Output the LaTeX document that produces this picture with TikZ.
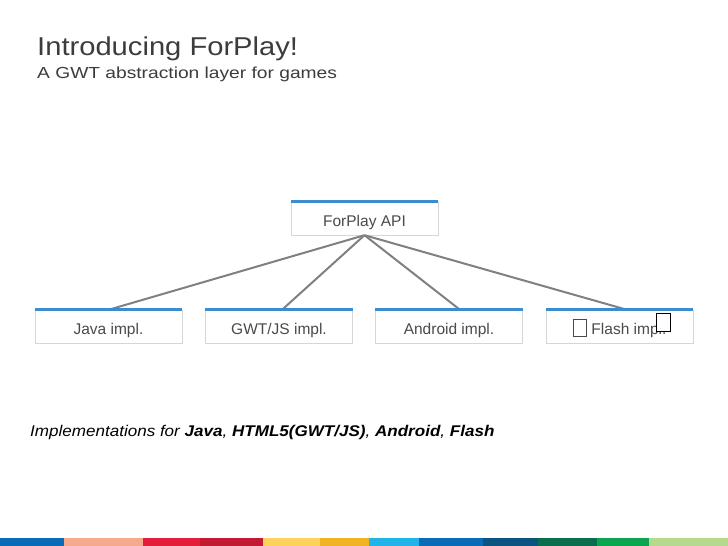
\documentclass[tikz,border=0pt]{standalone}
\usepackage{fontspec}
\setmainfont{Liberation Sans}
\newfontfamily\titlefont[FakeStretch=1.13]{Liberation Sans}
\newfontfamily\subtitlefont[FakeStretch=1.2]{Liberation Sans}
\newfontfamily\notefont[FakeStretch=1.1]{Liberation Sans}
\usepackage{xcolor}

\definecolor{slidetext}{HTML}{3C3C3C}
\definecolor{boxtext}{HTML}{4A4A4A}
\definecolor{boxline}{HTML}{D6D6D6}
\definecolor{topline}{HTML}{3A8DD0}
\definecolor{wiregray}{HTML}{808080}
\definecolor{barblue}{HTML}{0B6BB5}
\definecolor{barsalmon}{HTML}{F5AA8B}
\definecolor{barred}{HTML}{E41E3A}
\definecolor{bardarkred}{HTML}{C21A33}
\definecolor{baryellow}{HTML}{FDD25A}
\definecolor{bargold}{HTML}{F0B323}
\definecolor{barsky}{HTML}{22B4E8}
\definecolor{barnavy}{HTML}{0B5380}
\definecolor{bargreen}{HTML}{0A6E4E}
\definecolor{barleaf}{HTML}{0BA44F}
\definecolor{barlime}{HTML}{B6DA8D}

\newcommand{\missingglyph}{{\setlength{\fboxrule}{0.8pt}\setlength{\fboxsep}{0pt}\raisebox{-2pt}{\fbox{\rule{0pt}{16pt}\hspace{13pt}}}}}

\tikzset{
    layer/.style={draw=boxline, fill=white, minimum width=147pt, minimum height=33pt,
        inner sep=0pt, text height=15pt, text depth=0pt, text=boxtext,
        font=\fontsize{15.5}{18}\selectfont},
    link/.style={draw=wiregray, line width=2pt},
    accent/.style={draw=topline, line width=3pt},
    tofu/.style={draw=black, fill=white, line width=0.8pt, minimum width=14pt,
        minimum height=18pt, inner sep=0pt}
}

\begin{document}
\begin{tikzpicture}[x=1pt, y=-1pt]
\useasboundingbox (0,0) rectangle (728,546);
\begin{scope}
    \node[anchor=base west, inner sep=0pt, text=slidetext, font=\titlefont\fontsize{25.8}{30}\selectfont] (title) at (37,55) {Introducing ForPlay!};
    \node[anchor=base west, inner sep=0pt, text=slidetext, font=\subtitlefont\fontsize{16}{19}\selectfont] (subtitle) at (37,78.7) {A GWT abstraction layer for games};

    \node[layer] (api) at (364.5,218.5) {ForPlay API};
    \node[layer] (java) at (108.5,326.5) {Java impl.};
    \node[layer] (gwt) at (279,326.5) {GWT/JS impl.};
    \node[layer] (android) at (449,326.5) {Android impl.};
    \node[layer] (flash) at (619.5,326.5) {\missingglyph\ Flash impl.};
    \node[tofu] (glyph) at (663,322) {};  % glyph box drawn over the label

    \draw[link] (api.south) -- (java.north);
    \draw[link] (api.south) -- ([xshift=3pt]gwt.north);
    \draw[link] (api.south) -- ([xshift=11pt]android.north);
    \draw[link] (api.south) -- ([xshift=7.5pt]flash.north);
    \foreach \n in {api,java,gwt,android,flash}
        \draw[accent] (\n.north west) -- (\n.north east);

    \node[anchor=base west, inner sep=0pt, font=\notefont\fontsize{15.5}{18}\selectfont\itshape] (note) at (30,436)
        {Implementations for \textbf{Java}, \textbf{HTML5(GWT/JS)}, \textbf{Android}, \textbf{Flash}};

    % colour strip along the bottom edge
    \foreach \a/\b/\c in {0/64/barblue, 64/143/barsalmon, 143/200/barred, 200/263/bardarkred,
        263/320/baryellow, 320/369/bargold, 369/419/barsky, 419/483/barblue,
        483/538/barnavy, 538/597/bargreen, 597/649/barleaf, 649/728/barlime}
        \fill[\c] (\a,538) rectangle (\b,546);
\end{scope}
\end{tikzpicture}
\end{document}
